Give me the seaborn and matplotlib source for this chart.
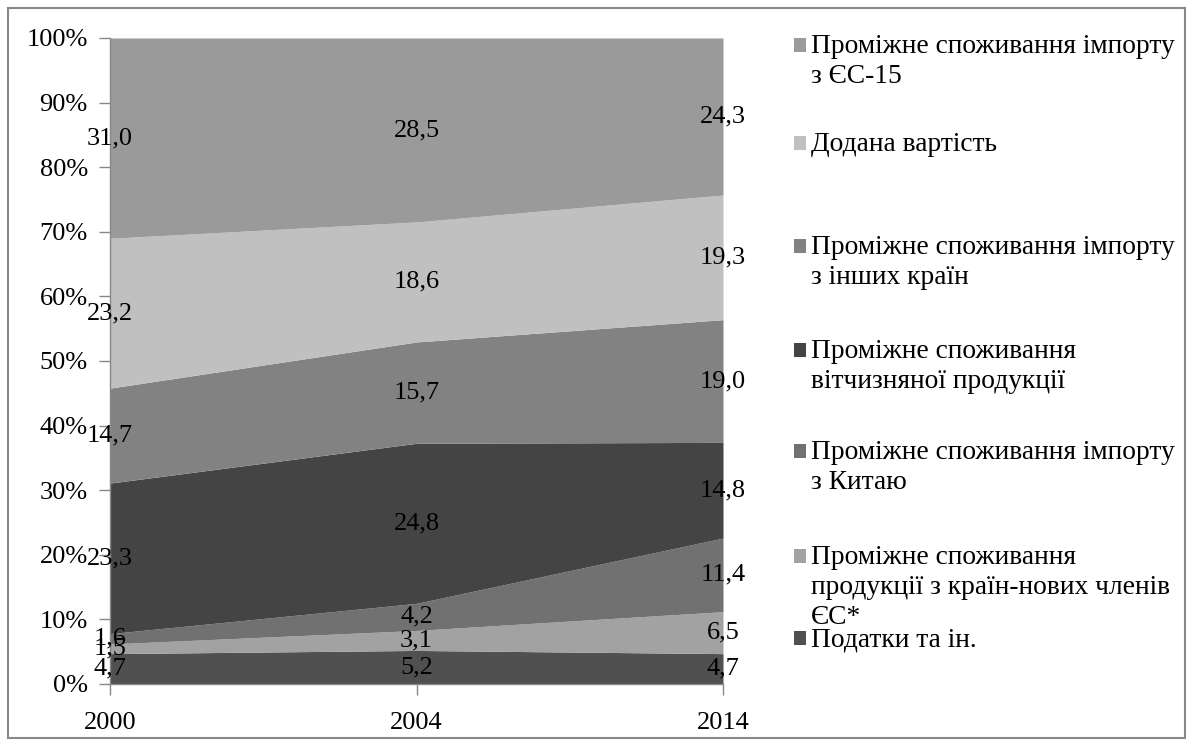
import matplotlib
matplotlib.use("Agg")
import matplotlib.pyplot as plt
from matplotlib.patches import Rectangle
import numpy as np
import pandas as pd
import seaborn as sns

years = ["2000", "2004", "2014"]
taxes = [4.7, 5.2, 4.7]
new_eu = [1.5, 3.1, 6.5]
china = [1.6, 4.2, 11.4]
domestic = [23.3, 24.8, 14.8]
other = [14.7, 15.7, 19.0]
added_value = [23.2, 18.6, 19.3]
eu15 = [31.0, 28.5, 24.3]

series_names = [
    "Податки та ін.",
    "Проміжне споживання\nпродукції з країн-нових членів\nЄС*",
    "Проміжне споживання імпорту\nз Китаю",
    "Проміжне споживання\nвітчизняної продукції",
    "Проміжне споживання імпорту\nз інших країн",
    "Додана вартість",
    "Проміжне споживання імпорту\nз ЄС-15",
]
series_vals = [taxes, new_eu, china, domestic, other, added_value, eu15]
colors = ["#505050", "#a2a2a2", "#717171", "#444444", "#828282", "#c0c0c0", "#9a9a9a"]

df = pd.DataFrame({n: v for n, v in zip(series_names, series_vals)}, index=years)

sns.set_theme(style="white")
plt.rcParams["font.family"] = ["Liberation Serif", "DejaVu Serif"]
FS = 19
LFS = 19.8

fig = plt.figure(figsize=(11.94, 7.47), dpi=100)
ax = fig.add_axes([110/1194, 1-684/747, (723-110)/1194, (684-38)/747])

x = np.arange(len(years))
totals = df.sum(axis=1).values
pct = df.div(totals, axis=0) * 100
ax.stackplot(x, [pct[c].values for c in df.columns], colors=colors, linewidth=0)

# data labels
cum = np.zeros(len(years))
for c in df.columns:
    mid = cum + pct[c].values / 2
    for i in range(len(years)):
        ax.text(x[i], mid[i], f"{df[c].values[i]:.1f}".replace(".", ","),
                ha="center", va="center", fontsize=FS, color="black")
    cum += pct[c].values

ax.set_xlim(0, 2)
ax.set_ylim(0, 100)
ax.set_xticks(x)
ax.set_xticklabels(years)
ax.set_yticks(np.arange(0, 101, 10))
ax.set_yticklabels([f"{v}%" for v in range(0, 101, 10)])
ax.tick_params(axis="both", labelsize=FS, colors="#888888", labelcolor="black",
               length=8, width=1, direction="out", bottom=True, left=True)
ax.tick_params(axis="y", pad=8)
ax.tick_params(axis="x", pad=12)
for s in ["top", "right"]:
    ax.spines[s].set_visible(False)
for s in ["left", "bottom"]:
    ax.spines[s].set_color("#888888")
    ax.spines[s].set_linewidth(1)
ax.grid(False)

# legend (manual, top-to-bottom order)
legend_y = [45, 143, 246, 350, 451, 556, 638]
order = list(range(len(series_names)))[::-1]
for yy, k in zip(legend_y, order):
    fig.patches.append(Rectangle((794/1194, 1-(yy+7)/747), 12/1194, 14/747,
                                 transform=fig.transFigure, facecolor=colors[k],
                                 edgecolor="none"))
    fig.text(811/1194, 1-(yy-11)/747, series_names[k], ha="left", va="top",
             fontsize=LFS, linespacing=1.25, color="black")

# outer border
fig.patches.append(Rectangle((8/1194, 1-738/747), 1177/1194, 730/747,
                             transform=fig.transFigure, fill=False,
                             edgecolor="#888888", linewidth=1.5))

fig.savefig("out.png", dpi=100)
